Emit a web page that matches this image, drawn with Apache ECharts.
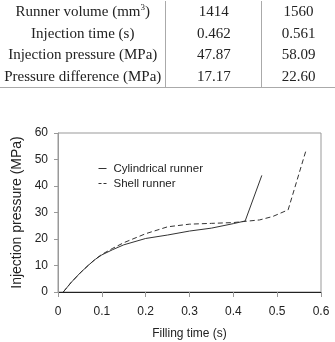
<!DOCTYPE html>
<html>
<head>
<meta charset="utf-8">
<script src="https://cdn.jsdelivr.net/npm/echarts@6/dist/echarts.min.js"></script>
<style>
  html, body { margin: 0; padding: 0; background: #fff; }
  #wrap { position: relative; width: 335px; height: 342px; overflow: hidden; }
  #chart { position: absolute; left: 0; top: 0; width: 335px; height: 342px; }
  #tbl {
    position: absolute; left: 0; top: 1px; border-collapse: collapse;
    font-family: "Liberation Serif", "DejaVu Serif", serif; font-size: 15px; color: #222;
  }
  #tbl td { height: 21.5px; padding: 0; text-align: center; line-height: 21.5px; }
  #tbl td + td { border-left: 1px solid #aaa; }
  #tbl tr:last-child td { border-bottom: 1px solid #aaa; }
  #tbl sup { font-size: 9px; line-height: 0; }
</style>
</head>
<body>
<div id="wrap">
  <div id="chart"></div>
  <table id="tbl"></table>
</div>
<script>
// 表格数据
var rowLabels = ['Runner volume (mm<sup>3</sup>)', 'Injection time (s)', 'Injection pressure (MPa)', 'Pressure difference (MPa)'];
var cylValues = ['1414', '0.462', '47.87', '17.17'];
var shellValues = ['1560', '0.561', '58.09', '22.60'];

// 曲线数据 [充填时间 s, 注射压力 MPa]
var cylindricalData = [
  [0.012, 0], [0.03, 3.6], [0.05, 7.1], [0.07, 10.2], [0.085, 12.3], [0.1, 14], [0.125, 16],
  [0.15, 17.8], [0.2, 20.2], [0.25, 21.5], [0.3, 23], [0.35, 24.1], [0.4, 25.8],
  [0.427, 26.8], [0.465, 44]
];
var shellData = [
  [0.012, 0], [0.03, 3.6], [0.05, 7.1], [0.07, 10.2], [0.085, 12.4], [0.1, 14.2], [0.125, 16.5],
  [0.15, 18.6], [0.2, 22], [0.25, 24.6], [0.3, 25.6], [0.35, 25.9], [0.4, 26.2],
  [0.43, 26.7], [0.46, 27.2], [0.49, 28.5], [0.525, 31], [0.565, 53]
];
var seriesNames = ['Cylindrical runner', 'Shell runner'];

var tbl = document.getElementById('tbl');
var html = '';
for (var i = 0; i < rowLabels.length; i++) {
  html += '<tr><td style="width:166px">' + rowLabels[i] + '</td>' +
          '<td style="width:95px">' + cylValues[i] + '</td>' +
          '<td style="width:73px">' + shellValues[i] + '</td></tr>';
}
tbl.innerHTML = html;

var myChart = echarts.init(document.getElementById('chart'));
var font = '"Liberation Sans", Arial, sans-serif';
var option = {
  animation: false,
  grid: {
    left: 58, right: 14, top: 133, bottom: 50,
    show: true, borderColor: '#999', borderWidth: 1
  },
  legend: {
    orient: 'vertical',
    left: 93, top: 156,
    itemWidth: 8, itemHeight: 10, itemGap: 0,
    data: [
      { name: seriesNames[0] },
      { name: seriesNames[1], lineStyle: { type: [3, 2] } }
    ],
    itemStyle: { opacity: 0 },  // 只显示线段，不显示标记
    lineStyle: { color: '#333', width: 1 },
    textStyle: { fontFamily: font, fontSize: 11.5, color: '#222', lineHeight: 15, padding: [0, 0, 0, 2] }
  },
  xAxis: {
    type: 'value', min: 0, max: 0.6, interval: 0.1,
    name: 'Filling time (s)', nameLocation: 'middle', nameGap: 36,
    nameTextStyle: { fontFamily: font, fontSize: 12, color: '#222' },
    axisLine: { lineStyle: { color: '#222', width: 1 } },
    axisTick: { show: true, length: 5, lineStyle: { color: '#999' } },
    axisLabel: {
      fontFamily: font, fontSize: 12, color: '#222', margin: 14,
      formatter: function (v) { return v === 0 ? '0' : v.toFixed(1); }
    },
    splitLine: { show: false }
  },
  yAxis: {
    type: 'value', min: 0, max: 60, interval: 10,
    name: 'Injection pressure (MPa)', nameLocation: 'middle', nameGap: 34, nameRotate: 90,
    nameTextStyle: { fontFamily: font, fontSize: 14, color: '#222' },
    axisLine: { show: true, lineStyle: { color: '#999', width: 1 } },
    axisTick: { show: true, length: 4, lineStyle: { color: '#999' } },
    axisLabel: { fontFamily: font, fontSize: 12, color: '#222', margin: 10 },
    splitLine: { show: false }
  },
  series: [
    {
      name: seriesNames[0], type: 'line', data: cylindricalData,
      symbol: 'none', smooth: false,
      lineStyle: { color: '#333', width: 1 },
      itemStyle: { color: '#333' }
    },
    {
      name: seriesNames[1], type: 'line', data: shellData,
      symbol: 'none', smooth: false,
      lineStyle: { color: '#333', width: 1, type: [5, 3] },
      itemStyle: { color: '#333' }
    }
  ]
};
myChart.setOption(option);
</script>
</body>
</html>
